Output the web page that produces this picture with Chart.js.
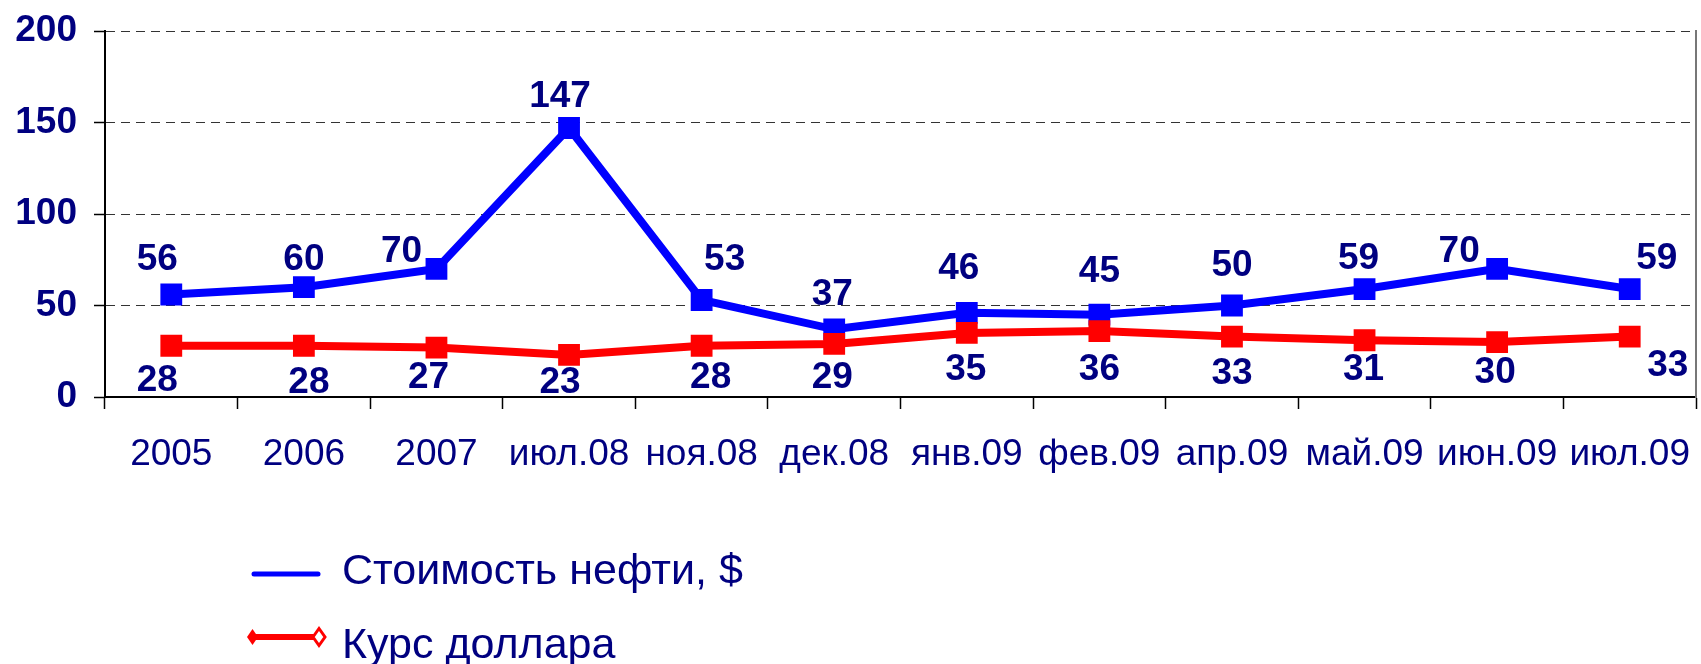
<!DOCTYPE html>
<html>
<head>
<meta charset="utf-8">
<script src="https://cdn.jsdelivr.net/npm/chart.js@4/dist/chart.umd.min.js"></script>
<style>
  body { margin: 0; background: #fff; }
  #wrap { position: relative; width: 1701px; height: 664px; overflow: hidden; }
  .legtext {
    position: absolute; left: 342px;
    font-family: 'Liberation Sans', Arial, sans-serif;
    font-size: 43px; line-height: 1; color: #000080; white-space: nowrap;
  }
  .legicon { position: absolute; left: 244px; }
</style>
</head>
<body>
<div id="wrap">
  <canvas id="oilchart"></canvas>
  <svg class="legicon" style="top:564px" width="90" height="20"><line x1="10" y1="10" x2="74" y2="10" stroke="#0000ff" stroke-width="5" stroke-linecap="round"/></svg>
  <span class="legtext" style="top:548px">Стоимость нефти, $</span>
  <svg class="legicon" style="top:625px" width="90" height="24">
    <line x1="8" y1="12" x2="72" y2="12" stroke="#ff0000" stroke-width="6"/>
    <polygon points="3,12 8.5,4 14,12 8.5,20" fill="#ff0000"/>
    <polygon points="69,12 75,3.5 81,12 75,20.5" fill="#fff" stroke="#ff0000" stroke-width="3"/>
  </svg>
  <span class="legtext" style="top:622px">Курс доллара</span>
</div>
<script>
const months = ['2005', '2006', '2007', 'июл.08', 'ноя.08', 'дек.08', 'янв.09', 'фев.09', 'апр.09', 'май.09', 'июн.09', 'июл.09']
const oilPrice = [56, 60, 70, 147, 53, 37, 46, 45, 50, 59, 70, 59]
const dollarRate = [28, 28, 27, 23, 28, 29, 35, 36, 33, 31, 30, 33]
const yTicks = [0, 50, 100, 150, 200]

// where the value labels sit relative to their point (x, y)
const oilLabelShift = [[-14, -35], [0, -27], [-35, -17], [-9, -31], [23, -40], [-2, -34], [-8, -44], [0, -43], [0, -40], [-6, -30], [-38, -17], [27, -30]]
const rateLabelShift = [[-14, 35], [5, 37], [-8, 30], [-9, 28], [9, 32], [-2, 34], [-1, 37], [0, 39], [0, 37], [-1, 30], [-2, 31], [38, 29]]

const fontFamily = '"Liberation Sans", Arial, sans-serif'
const navy = '#000080'

const pointLabels = {
    id: 'pointLabels',
    afterDatasetsDraw(chart) {
        let ctx = chart.ctx
        ctx.save()
        ctx.font = 'bold 37px ' + fontFamily
        ctx.fillStyle = navy
        ctx.textAlign = 'center'
        ctx.textBaseline = 'middle'
        chart.data.datasets.forEach((ds, i) => {
            chart.getDatasetMeta(i).data.forEach((pt, j) => {
                let shift = ds.labelShift[j]
                ctx.fillText(ds.data[j], pt.x + shift[0], pt.y + shift[1])
            })
        })
        ctx.restore()
    }
}

let chart = document.getElementById('oilchart')

new Chart(chart, {
    type: 'line',
    data: {
        labels: months,
        datasets: [{
            label: 'Стоимость нефти, $',
            data: oilPrice,
            labelShift: oilLabelShift,
            borderColor: '#0000ff',
            backgroundColor: '#0000ff',
            borderWidth: 8,
            pointStyle: 'rect',
            pointRadius: 14,
            pointBorderWidth: 2,
            order: 1
        }, {
            label: 'Курс доллара',
            data: dollarRate,
            labelShift: rateLabelShift,
            borderColor: '#ff0000',
            backgroundColor: '#ff0000',
            borderWidth: 8,
            pointStyle: 'rect',
            pointRadius: 14,
            pointBorderWidth: 2,
            order: 0
        }]
    },
    options: {
        responsive: true,
        maintainAspectRatio: false,
        animation: false,
        layout: { autoPadding: false, padding: { top: 31, bottom: 187, left: 0, right: 0 } },
        plugins: {
            legend: { display: false },
            tooltip: { enabled: false }
        },
        scales: {
            x: {
                offset: true,
                grid: { offset: true, drawOnChartArea: false, drawTicks: true, tickLength: 12, tickColor: '#000', tickWidth: 1.5 },
                border: { color: '#000', width: 2 },
                ticks: { color: navy, font: { family: fontFamily, size: 37 }, padding: 24, maxRotation: 0, autoSkip: false },
                afterFit: (scale) => {
                    scale.height = 80
                    scale.paddingLeft = 0
                    scale.paddingRight = 0
                }
            },
            y: {
                min: 0,
                max: 200,
                afterBuildTicks: (scale) => { scale.ticks = yTicks.map(v => ({ value: v })) },
                grid: { color: '#333', lineWidth: 1, tickLength: 11, tickColor: '#000', tickWidth: 1.5 },
                border: { color: '#000', width: 2, dash: [9, 6] },
                ticks: { color: navy, font: { family: fontFamily, size: 37, weight: 'bold', lineHeight: 0.6 }, padding: 17 },
                afterFit: (scale) => { scale.width = 105 }
            },
            y2: {
                position: 'right',
                min: 0,
                max: 200,
                grid: { drawOnChartArea: false, drawTicks: false },
                border: { color: '#777', width: 2 },
                ticks: { display: false },
                afterFit: (scale) => { scale.width = 5 }
            }
        }
    },
    plugins: [pointLabels]
})
</script>
</body>
</html>
